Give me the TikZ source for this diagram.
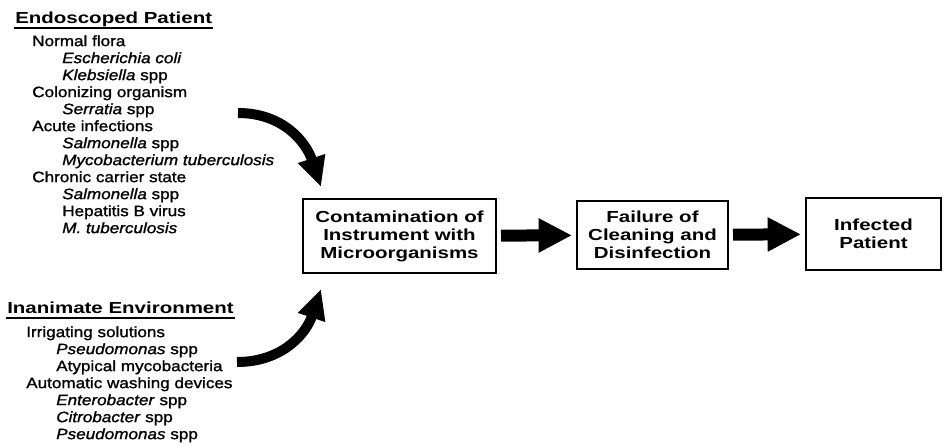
\documentclass[tikz,border=0pt]{standalone}
\usepackage{fontspec}
\usepackage{tikz}
\usetikzlibrary{arrows.meta,calc}

\newfontfamily\figfont{Liberation Sans}[FakeStretch=1.28]
\newfontfamily\listfont{Liberation Sans}[FakeStretch=1.14,FakeBold=1.2]
\newcommand{\subind}{\hspace*{22.5pt}}

\tikzset{
  procbox/.style={draw, line width=1.5pt, align=center, inner sep=0pt,
    font=\figfont\bfseries\fontsize{12pt}{13.5pt}\selectfont},
  headtext/.style={anchor=base west, inner sep=0.75pt, text depth=2.6pt,
    font=\figfont\bfseries\fontsize{12pt}{14pt}\selectfont},
  listtext/.style={anchor=north west, inner sep=0pt, align=left,
    font=\listfont\fontsize{11.25pt}{12.75pt}\selectfont},
  flatarrow/.style={line width=9pt, -{Triangle[width=24pt,length=25pt]},
    shorten <=3pt, shorten >=3pt},
  bentarrow/.style={line width=7.5pt, -{Triangle[width=20pt,length=22.5pt]}}
}

\begin{document}
\begin{tikzpicture}[x=0.75pt,y=0.75pt,yscale=-1,xscale=1]

\fill[white] (0,0) rectangle (943,446);

\draw (14,23) node (hdPatient) [headtext] {Endoscoped Patient};
\draw[line width=1.2pt] (hdPatient.south west) -- (hdPatient.south east);

\draw (32,35) node (lsPatient) [listtext] {Normal flora\\
\subind\textit{Escherichia coli}\\
\subind\textit{Klebsiella} spp\\
Colonizing organism\\
\subind\textit{Serratia} spp\\
Acute infections\\
\subind\textit{Salmonella} spp\\
\subind\textit{Mycobacterium tuberculosis}\\
Chronic carrier state\\
\subind\textit{Salmonella} spp\\
\subind Hepatitis B virus\\
\subind\textit{M. tuberculosis}};

\draw (6,313) node (hdEnv) [headtext] {Inanimate Environment};
\draw[line width=1.2pt] (hdEnv.south west) -- (hdEnv.south east);

\draw (26,326) node (lsEnv) [listtext] {Irrigating solutions\\
\subind\textit{Pseudomonas} spp\\
\subind Atypical mycobacteria\\
Automatic washing devices\\
\subind\textit{Enterobacter} spp\\
\subind\textit{Citrobacter} spp\\
\subind\textit{Pseudomonas} spp};

\node (contam) [procbox, minimum width=144.75pt, minimum height=55.5pt] at (399.5,236) {Contamination of\\Instrument with\\Microorganisms};
\node (failure) [procbox, minimum width=113.25pt, minimum height=51pt] at (652.5,235) {Failure of\\Cleaning and\\Disinfection};
\node (infected) [procbox, minimum width=101.25pt, minimum height=54pt] at (873.5,234) {Infected\\Patient};

\coordinate (tail1) at (238,113);
\coordinate (tip1) at ($(contam.north west)+(19,-11)$);
\coordinate (tail2) at (237,362);
\coordinate (tip2) at ($(contam.south west)+(19,15)$);

\draw[bentarrow] (tail1) .. controls (283,113) and (306,142) .. (tip1);
\draw[bentarrow] (tail2) .. controls (282,362) and (306,334) .. (tip2);

\draw[flatarrow] (contam) -- (failure);
\draw[flatarrow] (failure) -- (infected);

\end{tikzpicture}
\end{document}
